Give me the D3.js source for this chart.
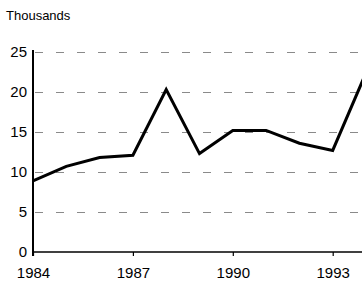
<!DOCTYPE html>
<html>
<head>
<meta charset="utf-8">
<script src="https://cdn.jsdelivr.net/npm/d3@7"></script>
<style>
  body { margin: 0; background: #fff; }
  text { font-family: "Liberation Sans", Arial, sans-serif; fill: #000; }
</style>
</head>
<body>
<div id="chart"></div>
<script>
// values (thousands)
var years = [1984, 1985, 1986, 1987, 1988, 1989, 1990, 1991, 1992, 1993, 1994];
var values = [8.9, 10.7, 11.8, 12.1, 20.3, 12.3, 15.2, 15.2, 13.6, 12.7, 22.4];
var yTicks = [0, 5, 10, 15, 20, 25];
var xTicks = [1984, 1987, 1990, 1993];

var width = 362, height = 282;

var svg = d3.select("#chart").append("svg")
  .attr("width", width)
  .attr("height", height);

var x = d3.scaleLinear().domain([1984, 1994]).range([33, 366]);
var y = d3.scaleLinear().domain([0, 25]).range([252, 52]);

/* grid lines */
svg.append("g").selectAll("line")
  .data(yTicks.filter(function(d) { return d > 0; }))
  .enter().append("line")
  .attr("x1", 35).attr("x2", width)
  .attr("y1", function(d) { return y(d) + 0.5; })
  .attr("y2", function(d) { return y(d) + 0.5; })
  .attr("stroke", "#8a8a8a")
  .attr("stroke-width", 1)
  .attr("stroke-dasharray", "8,13");

/* y axis */
var yAxis = svg.append("g")
  .attr("transform", "translate(33,0)")
  .call(d3.axisLeft(y).tickValues(yTicks).tickSize(0).tickPadding(6));
yAxis.select(".domain").remove();
yAxis.selectAll("text").style("font-size", "15px");
svg.append("line")
  .attr("x1", 33).attr("x2", 33)
  .attr("y1", y(25) - 2).attr("y2", y(0) + 4)
  .attr("stroke", "#000").attr("stroke-width", 2);

/* x axis */
var xAxis = svg.append("g")
  .attr("transform", "translate(0," + y(0) + ")")
  .call(d3.axisBottom(x).tickValues(xTicks).tickFormat(d3.format("d")).tickSize(4).tickPadding(11));
xAxis.select(".domain").remove();
xAxis.selectAll("line").attr("stroke-width", 1.2);
xAxis.selectAll("text").style("font-size", "15px");
svg.append("line")
  .attr("x1", 33).attr("x2", width)
  .attr("y1", y(0)).attr("y2", y(0))
  .attr("stroke", "#000").attr("stroke-width", 1.5);

/* series */
var line = d3.line()
  .x(function(d, i) { return x(years[i]); })
  .y(function(d) { return y(d); });

svg.append("path")
  .datum(values)
  .attr("d", line)
  .attr("fill", "none")
  .attr("stroke", "#000")
  .attr("stroke-width", 3)
  .attr("stroke-linejoin", "miter");

svg.append("text")
  .attr("x", 6).attr("y", 20)
  .style("font-size", "13px")
  .text("Thousands");
</script>
</body>
</html>
